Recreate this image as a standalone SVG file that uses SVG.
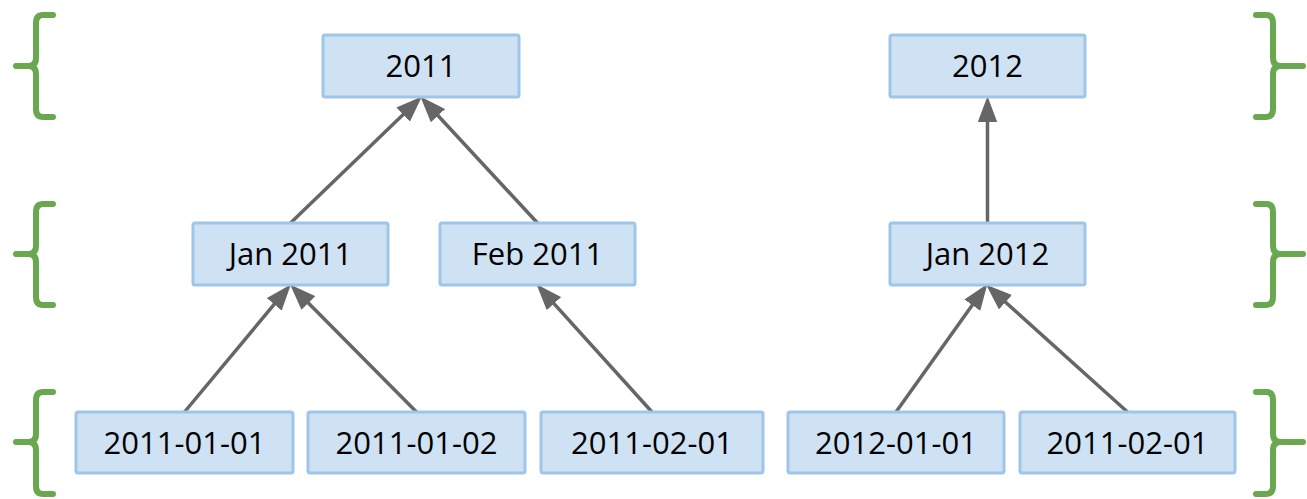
<svg xmlns="http://www.w3.org/2000/svg" width="1307" height="499" viewBox="0 0 1307 499">
<style>
.box{fill:#cfe2f3;stroke:#9fc5e8;stroke-width:3}
.lbl{font-family:"Open Sans","Liberation Sans",sans-serif;font-size:31px;fill:#000;text-anchor:middle}
.edge{stroke:#666;stroke-width:3.5;fill:none}
.br{stroke:#6aa84f;stroke-width:6;fill:none;stroke-linecap:round;stroke-linejoin:round}
</style>
<defs>
<marker id="ah" markerUnits="userSpaceOnUse" markerWidth="26" markerHeight="20" viewBox="0 0 24 18" refX="14" refY="9" orient="auto">
<path d="M0,0 L24,9 L0,18 z" fill="#666"/>
</marker>
</defs>
<rect width="1307" height="499" fill="#fff"/>
<g id="brackets">
<path class="br" d="M53,15 H43 Q36,15 36,23 V58 Q36,66 28,66 H16 M28,66 Q36,66 36,74 V109 Q36,117 43,117 H53"/>
<path class="br" d="M53,204 H43 Q36,204 36,212 V246 Q36,254 28,254 H16 M28,254 Q36,254 36,262 V297 Q36,305 43,305 H53"/>
<path class="br" d="M53,392 H43 Q36,392 36,400 V434 Q36,442 28,442 H16 M28,442 Q36,442 36,450 V486 Q36,494 43,494 H53"/>
<path class="br" d="M1256,15 H1266 Q1273,15 1273,23 V58 Q1273,66 1281,66 H1303 M1281,66 Q1273,66 1273,74 V109 Q1273,117 1266,117 H1256"/>
<path class="br" d="M1256,204 H1266 Q1273,204 1273,212 V246 Q1273,254 1281,254 H1303 M1281,254 Q1273,254 1273,262 V297 Q1273,305 1266,305 H1256"/>
<path class="br" d="M1256,392 H1266 Q1273,392 1273,400 V434 Q1273,442 1281,442 H1303 M1281,442 Q1273,442 1273,450 V486 Q1273,494 1266,494 H1256"/>
</g>
<g id="connectors">
<line class="edge" x1="184.5" y1="412" x2="283.9" y2="292.7" marker-end="url(#ah)"/>
<line class="edge" x1="416.5" y1="412" x2="297.7" y2="292.2" marker-end="url(#ah)"/>
<line class="edge" x1="652" y1="412" x2="543.8" y2="292.4" marker-end="url(#ah)"/>
<line class="edge" x1="290.5" y1="223" x2="414.1" y2="104.1" marker-end="url(#ah)"/>
<line class="edge" x1="537.5" y1="223" x2="427.7" y2="104.5" marker-end="url(#ah)"/>
<line class="edge" x1="987.5" y1="223" x2="987.5" y2="107" marker-end="url(#ah)"/>
<line class="edge" x1="896" y1="412" x2="981.1" y2="292.8" marker-end="url(#ah)"/>
<line class="edge" x1="1127.5" y1="412" x2="994.2" y2="292" marker-end="url(#ah)"/>
</g>
<g id="n2011"><rect class="box" x="323" y="35" width="196" height="62" rx="2"/><text class="lbl" x="421" y="77">2011</text></g>
<g id="n2012"><rect class="box" x="890" y="35" width="195" height="62" rx="2"/><text class="lbl" x="987.5" y="77">2012</text></g>
<g id="jan2011"><rect class="box" x="193" y="223" width="195" height="62" rx="2"/><text class="lbl" x="290.5" y="265">Jan 2011</text></g>
<g id="feb2011"><rect class="box" x="440" y="223" width="195" height="62" rx="2"/><text class="lbl" x="537.5" y="265">Feb 2011</text></g>
<g id="jan2012"><rect class="box" x="890" y="223" width="195" height="62" rx="2"/><text class="lbl" x="987.5" y="265">Jan 2012</text></g>
<g id="d20110101"><rect class="box" x="76" y="412" width="217" height="61" rx="2"/><text class="lbl" x="184.5" y="454">2011-01-01</text></g>
<g id="d20110102"><rect class="box" x="308" y="412" width="217" height="61" rx="2"/><text class="lbl" x="416.5" y="454">2011-01-02</text></g>
<g id="d20110201"><rect class="box" x="541" y="412" width="222" height="61" rx="2"/><text class="lbl" x="652" y="454">2011-02-01</text></g>
<g id="d20120101"><rect class="box" x="788" y="412" width="216" height="61" rx="2"/><text class="lbl" x="896" y="454">2012-01-01</text></g>
<g id="d20110201b"><rect class="box" x="1020" y="412" width="215" height="61" rx="2"/><text class="lbl" x="1127.5" y="454">2011-02-01</text></g>
</svg>
